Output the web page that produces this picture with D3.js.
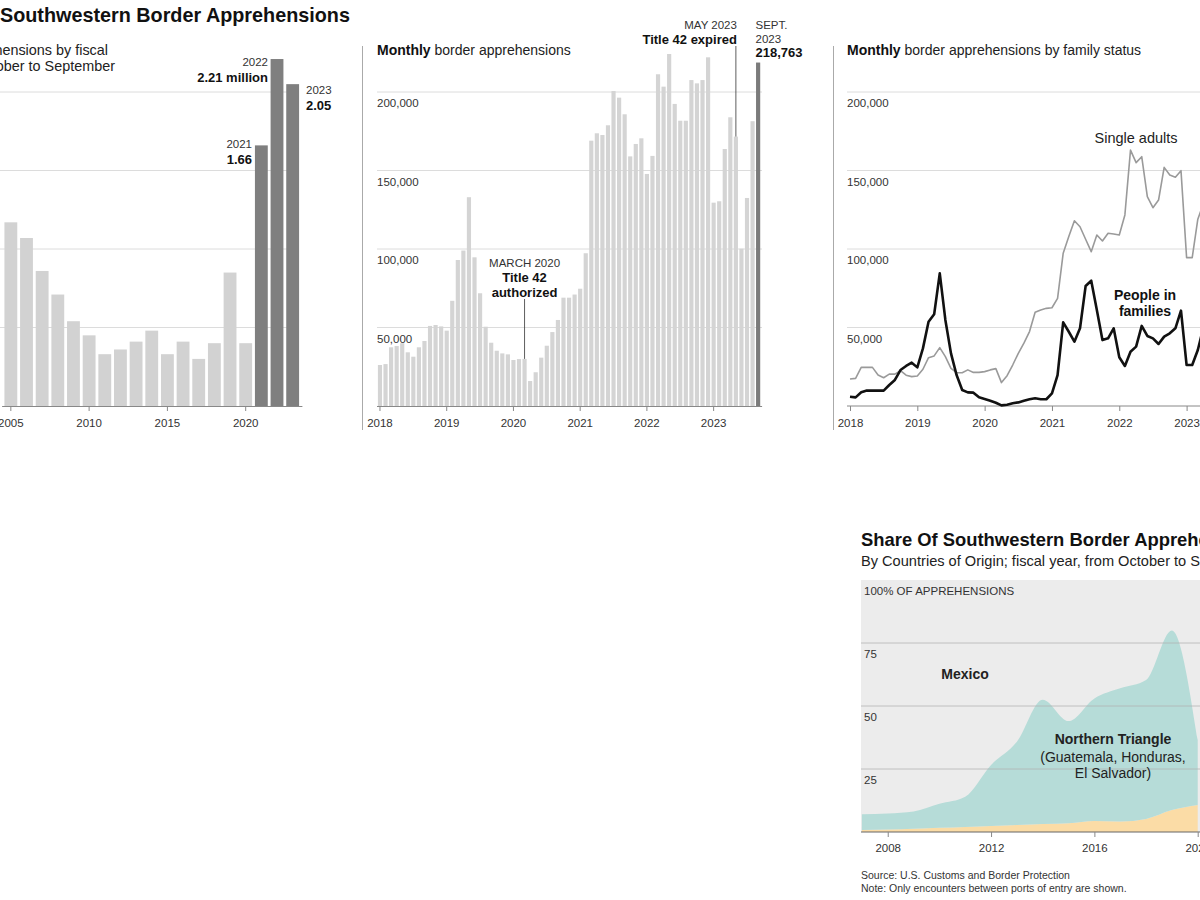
<!DOCTYPE html>
<html>
<head>
<meta charset="utf-8">
<script src="https://cdn.jsdelivr.net/npm/d3@7"></script>
<style>
  body { margin: 0; background: #fff; }
  svg { display: block; font-family: "Liberation Sans", Arial, Helvetica, sans-serif; }
</style>
</head>
<body>
<div id="chart"></div>
<script>
// ---- Data ----

// Panel 1: annual apprehensions, millions
var fiscalYears = [2005, 2006, 2007, 2008, 2009, 2010, 2011, 2012, 2013, 2014,
  2015, 2016, 2017, 2018, 2019, 2020, 2021, 2022, 2023];
var yearlyTotals = [1.17, 1.07, 0.86, 0.71, 0.54, 0.45, 0.33, 0.36, 0.41, 0.48,
  0.33, 0.41, 0.30, 0.40, 0.85, 0.40, 1.66, 2.21, 2.05];
var yearTicks = [2005, 2010, 2015, 2020];
var millionTicks = [0.5, 1.0, 1.5, 2.0];

// Panel 2: monthly apprehensions, Jan 2018 .. Sept 2023 (thousands)
var monthlyTotals = [
  26.1, 26.7, 37.4, 38.2, 40.0, 34.2, 31.4, 37.4, 41.4, 51.0, 51.6, 50.7,
  48.0, 67.0, 93.0, 99.0, 133.0, 94.7, 71.8, 50.5, 40.3, 35.2, 33.5, 32.9,
  29.3, 29.9, 30.0, 15.9, 21.5, 30.8, 38.4, 47.1, 54.8, 69.0, 69.0, 71.0,
  74.7, 97.3, 169.0, 173.7, 172.6, 178.8, 200.6, 196.4, 185.8, 159.0, 166.9, 170.5,
  147.8, 159.3, 211.3, 203.4, 224.2, 192.4, 181.7, 181.7, 207.6, 205.5, 207.6, 222.1,
  129.5, 130.4, 163.7, 183.9, 171.6, 100.2, 132.5, 181.4, 218.763
];
var monthYearLabels = ["2018", "2019", "2020", "2021", "2022", "2023"];
var countTicks = [50000, 100000, 150000, 200000];

// Panel 3: by family status, Jan 2018 .. Apr 2023 (thousands)
var singleAdults = [
  17.2, 17.6, 24.6, 24.6, 24.6, 19.8, 18.0, 20.3, 20.3, 22.5, 19.6, 18.7,
  19.1, 23.4, 30.8, 31.9, 37.2, 31.4, 24.0, 21.2, 21.2, 23.0, 21.4, 21.4,
  21.9, 23.0, 23.8, 14.9, 19.3, 26.1, 33.5, 40.0, 47.4, 59.7, 61.2, 62.2,
  62.6, 68.6, 97.3, 107.9, 118.0, 114.2, 106.2, 98.3, 108.9, 105.1, 110.0, 109.6,
  108.9, 121.7, 163.0, 155.0, 158.8, 133.3, 126.3, 131.2, 152.0, 147.1, 145.7, 149.9,
  94.5, 94.5, 119.0, 129.0
];
var families = [
  5.9, 5.5, 8.7, 9.8, 9.8, 9.8, 9.8, 13.4, 16.6, 22.9, 25.5, 27.6,
  24.6, 36.7, 53.7, 58.4, 84.5, 54.8, 33.5, 19.7, 10.2, 8.7, 8.5, 5.5,
  4.5, 3.4, 2.1, 0.4, 0.8, 1.7, 2.3, 3.4, 4.3, 4.9, 4.3, 4.3,
  8.1, 19.7, 53.3, 47.3, 41.0, 49.5, 76.4, 79.8, 61.2, 42.0, 43.1, 49.5,
  31.0, 25.5, 34.6, 37.8, 51.0, 44.6, 43.1, 39.5, 44.2, 46.3, 49.5, 60.7,
  26.1, 26.1, 35.7, 50.0
];

// Bottom: share of apprehensions by origin, percent
var shareYears = [2007, 2008, 2009, 2010, 2011, 2012, 2013, 2014, 2015, 2016, 2017, 2018, 2019, 2020];
var shareOther = [0.8, 1.0, 1.3, 1.7, 2.0, 2.4, 2.8, 3.2, 3.5, 4.4, 4.2, 5.2, 8.7, 10.7];
var shareTriangle = [6.2, 6.3, 6.8, 9.5, 12.0, 24.2, 33.0, 49.3, 40.5, 48.6, 52.8, 55.1, 71.3, 25.8];
var shareXTicks = [2008, 2012, 2016, 2020];
var shareYTicks = [25, 50, 75];

var svg = d3.select("#chart")
  .append("svg")
  .attr("width", 1200)
  .attr("height", 900);

var fmt = d3.format(",");

// common y scale for the three top panels (thousands of apprehensions)
var yCount = d3.scaleLinear()
  .domain([0, 200])
  .range([406, 92]);

function styleAxis(g) {
  g.select(".domain").attr("stroke", "#888");
  g.selectAll(".tick line").attr("stroke", "#888");
  g.selectAll(".tick text")
    .attr("fill", "#333")
    .attr("font-size", "11.5px")
    .attr("font-family", "Liberation Sans, Arial, sans-serif");
}

// ==============================
// Panel 1: annual bars
// ==============================
svg.append("text")
  .attr("x", 0)
  .attr("y", 22)
  .attr("font-size", "19.8px")
  .attr("font-weight", "bold")
  .attr("fill", "#111")
  .text("Southwestern Border Apprehensions");

svg.append("text")
  .attr("x", 108)
  .attr("y", 55)
  .attr("text-anchor", "end")
  .attr("font-size", "14.4px")
  .attr("fill", "#222")
  .text("Annual apprehensions by fiscal");
svg.append("text")
  .attr("x", 115)
  .attr("y", 71)
  .attr("text-anchor", "end")
  .attr("font-size", "14.4px")
  .attr("fill", "#222")
  .text("year, from October to September");

var yMillion = d3.scaleLinear()
  .domain([0, 2])
  .range([406, 92]);

var xYear = d3.scaleBand()
  .domain(fiscalYears)
  .range([1.6, 301.9])
  .padding(0.18);

svg.append("g").selectAll("line")
  .data(millionTicks)
  .enter()
  .append("line")
  .attr("x1", -5)
  .attr("x2", 288)
  .attr("y1", d => yMillion(d))
  .attr("y2", d => yMillion(d))
  .attr("stroke", "#dcdcdc");

svg.append("g").selectAll("rect")
  .data(fiscalYears)
  .enter()
  .append("rect")
  .attr("x", d => xYear(d))
  .attr("width", xYear.bandwidth())
  .attr("y", (d, i) => yMillion(yearlyTotals[i]))
  .attr("height", (d, i) => 406 - yMillion(yearlyTotals[i]))
  .attr("fill", d => d >= 2021 ? "#7f7f7f" : "#d2d2d2");

svg.append("g")
  .attr("transform", "translate(0,406)")
  .call(d3.axisBottom(xYear).tickValues(yearTicks).tickSize(5).tickPadding(8).tickSizeOuter(0))
  .call(styleAxis);

function yearNote(year, x, anchor, dy) {
  var i = fiscalYears.indexOf(year);
  var top = yMillion(yearlyTotals[i]);
  svg.append("text")
    .attr("x", x)
    .attr("y", top + dy)
    .attr("text-anchor", anchor)
    .attr("font-size", "11.5px")
    .attr("fill", "#333")
    .text(year);
  svg.append("text")
    .attr("x", x)
    .attr("y", top + dy + 16)
    .attr("text-anchor", anchor)
    .attr("font-size", "13px")
    .attr("font-weight", "bold")
    .attr("fill", "#111")
    .text(year === 2022 ? yearlyTotals[i] + " million" : d3.format(".2f")(yearlyTotals[i]));
}
yearNote(2022, 268, "end", 7);
yearNote(2023, 306, "start", 10);
yearNote(2021, 252, "end", 3);

// ==============================
// Panel 2: monthly bars
// ==============================
svg.append("line")
  .attr("x1", 362.5).attr("x2", 362.5)
  .attr("y1", 46).attr("y2", 430)
  .attr("stroke", "#aaa");

var title2 = svg.append("text")
  .attr("x", 377)
  .attr("y", 55)
  .attr("font-size", "14px")
  .attr("fill", "#222");
title2.append("tspan").attr("font-weight", "bold").attr("fill", "#111").text("Monthly");
title2.append("tspan").text(" border apprehensions");

var monthIdx = d3.range(monthlyTotals.length);
var xMonth = d3.scaleBand()
  .domain(monthIdx)
  .range([376.5, 761.6])
  .padding(0.25);

svg.append("g").selectAll("line")
  .data(countTicks)
  .enter()
  .append("line")
  .attr("x1", 377)
  .attr("x2", 762)
  .attr("y1", d => yCount(d / 1000))
  .attr("y2", d => yCount(d / 1000))
  .attr("stroke", "#dcdcdc");

svg.append("g").selectAll("text")
  .data(countTicks)
  .enter()
  .append("text")
  .attr("x", 377)
  .attr("y", d => yCount(d / 1000) + 15)
  .attr("font-size", "11.5px")
  .attr("fill", "#333")
  .text(d => fmt(d));

svg.append("g").selectAll("rect")
  .data(monthlyTotals)
  .enter()
  .append("rect")
  .attr("x", (d, i) => xMonth(i))
  .attr("width", xMonth.bandwidth())
  .attr("y", d => yCount(d))
  .attr("height", d => 406 - yCount(d))
  .attr("fill", (d, i) => i === monthlyTotals.length - 1 ? "#7b7b7b" : "#d4d4d4");

svg.append("g")
  .attr("transform", "translate(0,406)")
  .call(d3.axisBottom(xMonth)
    .tickValues([0, 12, 24, 36, 48, 60])
    .tickFormat(i => monthYearLabels[i / 12])
    .tickSize(5).tickPadding(8).tickSizeOuter(0))
  .call(styleAxis);

// March 2020 annotation (index 26)
var marX = xMonth(26) + xMonth.bandwidth() / 2;
svg.append("line")
  .attr("x1", marX).attr("x2", marX)
  .attr("y1", 299).attr("y2", yCount(monthlyTotals[26]))
  .attr("stroke", "#333").attr("stroke-width", 0.8);
svg.append("text").attr("x", marX).attr("y", 267).attr("text-anchor", "middle")
  .attr("font-size", "11.5px").attr("fill", "#333").text("MARCH 2020");
svg.append("text").attr("x", marX).attr("y", 282).attr("text-anchor", "middle")
  .attr("font-size", "13px").attr("font-weight", "bold").attr("fill", "#111").text("Title 42");
svg.append("text").attr("x", marX).attr("y", 297).attr("text-anchor", "middle")
  .attr("font-size", "13px").attr("font-weight", "bold").attr("fill", "#111").text("authorized");

// May 2023 annotation (index 64)
var mayX = xMonth(64) + xMonth.bandwidth() / 2;
svg.append("line")
  .attr("x1", mayX).attr("x2", mayX)
  .attr("y1", 46).attr("y2", yCount(monthlyTotals[64]))
  .attr("stroke", "#333").attr("stroke-width", 0.8);
svg.append("text").attr("x", mayX + 1).attr("y", 29).attr("text-anchor", "end")
  .attr("font-size", "11.5px").attr("fill", "#333").text("MAY 2023");
svg.append("text").attr("x", mayX + 1).attr("y", 44).attr("text-anchor", "end")
  .attr("font-size", "13px").attr("font-weight", "bold").attr("fill", "#111").text("Title 42 expired");

// Sept 2023 annotation
svg.append("text").attr("x", 755.5).attr("y", 29)
  .attr("font-size", "11.5px").attr("fill", "#333").text("SEPT.");
svg.append("text").attr("x", 755.5).attr("y", 43)
  .attr("font-size", "11.5px").attr("fill", "#333").text("2023");
svg.append("text").attr("x", 755.5).attr("y", 57)
  .attr("font-size", "13px").attr("font-weight", "bold").attr("fill", "#111")
  .text(fmt(Math.round(monthlyTotals[68] * 1000)));

// ==============================
// Panel 3: by family status
// ==============================
svg.append("line")
  .attr("x1", 833.5).attr("x2", 833.5)
  .attr("y1", 46).attr("y2", 430)
  .attr("stroke", "#aaa");

var title3 = svg.append("text")
  .attr("x", 847)
  .attr("y", 55)
  .attr("font-size", "14px")
  .attr("fill", "#222");
title3.append("tspan").attr("font-weight", "bold").attr("fill", "#111").text("Monthly");
title3.append("tspan").text(" border apprehensions by family status");

var xLine = d3.scaleLinear()
  .domain([0, 68])
  .range([850, 850 + 68 * 5.61]);

svg.append("g").selectAll("line")
  .data(countTicks)
  .enter()
  .append("line")
  .attr("x1", 847)
  .attr("x2", 1210)
  .attr("y1", d => yCount(d / 1000))
  .attr("y2", d => yCount(d / 1000))
  .attr("stroke", "#dcdcdc");

svg.append("g").selectAll("text")
  .data(countTicks)
  .enter()
  .append("text")
  .attr("x", 847)
  .attr("y", d => yCount(d / 1000) + 15)
  .attr("font-size", "11.5px")
  .attr("fill", "#333")
  .text(d => fmt(d));

var axis3 = svg.append("g")
  .attr("transform", "translate(0,406)")
  .call(d3.axisBottom(xLine)
    .tickValues([0, 12, 24, 36, 48, 60])
    .tickFormat(i => monthYearLabels[i / 12])
    .tickSize(5).tickPadding(8).tickSizeOuter(0))
  .call(styleAxis);
axis3.select(".domain").attr("d", "M847,0H1210");

var lineGen = d3.line()
  .x((d, i) => xLine(i))
  .y(d => yCount(d));

svg.append("path")
  .datum(singleAdults)
  .attr("d", lineGen)
  .attr("fill", "none")
  .attr("stroke", "#9a9a9a")
  .attr("stroke-width", 1.6)
  .attr("stroke-linejoin", "round");

svg.append("path")
  .datum(families)
  .attr("d", lineGen)
  .attr("fill", "none")
  .attr("stroke", "#111")
  .attr("stroke-width", 2.6)
  .attr("stroke-linejoin", "round");

svg.append("text").attr("x", 1136).attr("y", 143).attr("text-anchor", "middle")
  .attr("font-size", "14.5px").attr("fill", "#222").text("Single adults");
svg.append("text").attr("x", 1145).attr("y", 300).attr("text-anchor", "middle")
  .attr("font-size", "14px").attr("font-weight", "bold").attr("fill", "#111").text("People in");
svg.append("text").attr("x", 1145).attr("y", 316).attr("text-anchor", "middle")
  .attr("font-size", "14px").attr("font-weight", "bold").attr("fill", "#111").text("families");

// ==============================
// Bottom: share by country of origin
// ==============================
svg.append("text")
  .attr("x", 861)
  .attr("y", 546)
  .attr("font-size", "18.4px")
  .attr("font-weight", "bold")
  .attr("fill", "#111")
  .text("Share Of Southwestern Border Apprehensions");
svg.append("text")
  .attr("x", 861)
  .attr("y", 566)
  .attr("font-size", "14.6px")
  .attr("fill", "#222")
  .text("By Countries of Origin; fiscal year, from October to September");

var xShare = d3.scaleLinear()
  .domain([2007, 2020])
  .range([861.9, 1197.7]);
var yShare = d3.scaleLinear()
  .domain([0, 100])
  .range([832, 580]);

svg.append("rect")
  .attr("x", 861)
  .attr("y", yShare(100))
  .attr("width", 360)
  .attr("height", yShare(0) - yShare(100))
  .attr("fill", "#ececec");

var shareTable = shareYears.map((yr, i) => ({ year: yr, other: shareOther[i], triangle: shareTriangle[i] }));
var stacked = d3.stack().keys(["other", "triangle"])(shareTable);
var shareColors = { other: "#fbdca6", triangle: "#b6dcd8" };

var areaGen = d3.area()
  .x(d => xShare(d.data.year))
  .y0(d => yShare(d[0]))
  .y1(d => yShare(d[1]))
  .curve(d3.curveMonotoneX);

svg.append("g").selectAll("path")
  .data(stacked)
  .enter()
  .append("path")
  .attr("d", areaGen)
  .attr("fill", d => shareColors[d.key]);

svg.append("g").selectAll("line")
  .data(shareYTicks)
  .enter()
  .append("line")
  .attr("x1", 861)
  .attr("x2", 1210)
  .attr("y1", d => yShare(d))
  .attr("y2", d => yShare(d))
  .attr("stroke", "#b0b0b0")
  .attr("stroke-opacity", 0.75);

svg.append("g").selectAll("text")
  .data(shareYTicks)
  .enter()
  .append("text")
  .attr("x", 864)
  .attr("y", d => yShare(d) + 15)
  .attr("font-size", "11.5px")
  .attr("fill", "#333")
  .text(d => d);

svg.append("text")
  .attr("x", 864)
  .attr("y", 595)
  .attr("font-size", "11.5px")
  .attr("fill", "#333")
  .text("100% OF APPREHENSIONS");

var axis4 = svg.append("g")
  .attr("transform", "translate(0,832)")
  .call(d3.axisBottom(xShare).tickValues(shareXTicks).tickFormat(d3.format("d"))
    .tickSize(5).tickPadding(7).tickSizeOuter(0))
  .call(styleAxis);
axis4.select(".domain").attr("d", "M861,0H1210").attr("stroke", "#666");

svg.append("text").attr("x", 965).attr("y", 679).attr("text-anchor", "middle")
  .attr("font-size", "14px").attr("font-weight", "bold").attr("fill", "#222").text("Mexico");
svg.append("text").attr("x", 1113).attr("y", 744).attr("text-anchor", "middle")
  .attr("font-size", "14px").attr("font-weight", "bold").attr("fill", "#222").text("Northern Triangle");
svg.append("text").attr("x", 1113).attr("y", 762).attr("text-anchor", "middle")
  .attr("font-size", "14px").attr("fill", "#222").text("(Guatemala, Honduras,");
svg.append("text").attr("x", 1113).attr("y", 778).attr("text-anchor", "middle")
  .attr("font-size", "14px").attr("fill", "#222").text("El Salvador)");

svg.append("text").attr("x", 861).attr("y", 879)
  .attr("font-size", "10.5px").attr("fill", "#333").text("Source: U.S. Customs and Border Protection");
svg.append("text").attr("x", 861).attr("y", 892)
  .attr("font-size", "10.5px").attr("fill", "#333").text("Note: Only encounters between ports of entry are shown.");
</script>
</body>
</html>
